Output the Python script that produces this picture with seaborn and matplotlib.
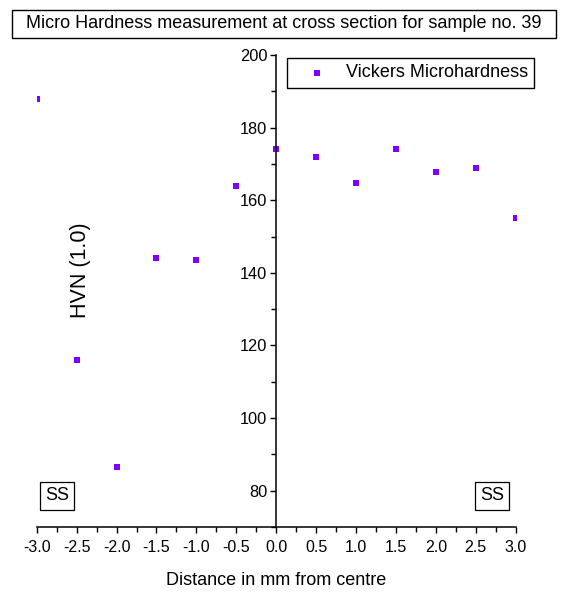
import matplotlib
matplotlib.use("Agg")
import matplotlib.pyplot as plt
import seaborn as sns
import pandas as pd
from matplotlib.patches import Rectangle
from matplotlib.ticker import MultipleLocator

# Vickers microhardness across the section of sample no. 39
distance_mm = [-3.0, -2.5, -2.0, -1.5, -1.0, -0.5, 0.0, 0.5, 1.0, 1.5, 2.0, 2.5, 3.0]
hardness_hvn = [187.8, 115.9, 86.4, 144.1, 143.4, 163.9, 174.2, 172.0, 164.8, 174.2, 167.8, 168.8, 155.2]

x_ticks = [-3.0, -2.5, -2.0, -1.5, -1.0, -0.5, 0.0, 0.5, 1.0, 1.5, 2.0, 2.5, 3.0]
x_tick_labels = ["-3.0", "-2.5", "-2.0", "-1.5", "-1.0", "-0.5", "0.0",
                 "0.5", "1.0", "1.5", "2.0", "2.5", "3.0"]
y_ticks = [80, 100, 120, 140, 160, 180, 200]
y_tick_labels = ["80", "100", "120", "140", "160", "180", "200"]

title_text = "Micro Hardness measurement at cross section for sample no. 39"
series_label = "Vickers Microhardness"
zone_label = "SS"

sns.set_style("ticks")
plt.rcParams["font.family"] = ["Liberation Sans", "DejaVu Sans"]
plt.rcParams.update({"text.color": "black", "axes.labelcolor": "black",
                     "xtick.color": "black", "ytick.color": "black"})

fig = plt.figure(figsize=(5.64, 5.97), dpi=100)
ax = fig.add_axes([0.0651, 0.1173, 0.8493, 0.7906])

df = pd.DataFrame({"Distance": distance_mm, "HVN": hardness_hvn})
sns.scatterplot(data=df, x="Distance", y="HVN", ax=ax, marker="s", s=14,
                color="#7F00FF", linewidth=0, label=series_label)

ax.set_xlim(-3, 3)
ax.set_ylim(70, 200)

# vertical axis drawn through the centre of the section
ax.spines["left"].set_position(("data", 0))
ax.spines["top"].set_visible(False)
ax.spines["right"].set_visible(False)
for side in ("left", "bottom"):
    ax.spines[side].set_linewidth(1.1)
    ax.spines[side].set_color("black")

ax.set_xticks(x_ticks, x_tick_labels)
ax.set_yticks(y_ticks, y_tick_labels)
ax.xaxis.set_minor_locator(MultipleLocator(0.25))
ax.yaxis.set_minor_locator(MultipleLocator(10))
ax.tick_params(which="both", direction="out", width=1.0, color="black",
               labelcolor="black")
ax.tick_params(which="major", length=4.5)
ax.tick_params(which="minor", length=3.5)
ax.tick_params(axis="x", labelsize=11.5, pad=5)
ax.tick_params(axis="y", labelsize=11.8, pad=2)

ax.set_xlabel("Distance in mm from centre", fontsize=13, labelpad=12)
ax.set_ylabel("HVN (1.0)", fontsize=15.5)
ax.yaxis.set_label_coords(0.113, 0.545)

# stainless-steel zones at both ends
for xpos in (-2.746, 2.703):
    ax.text(xpos, 78.6, zone_label, ha="center", va="center", fontsize=13,
            bbox=dict(boxstyle="square,pad=0.3", fc="white", ec="black", lw=0.9))

leg = ax.legend(loc="upper left", bbox_to_anchor=(0.5226, 0.9936), borderaxespad=0,
                frameon=True, fancybox=False, edgecolor="black", framealpha=1,
                fontsize=13, handlelength=2.6, handletextpad=0.3, borderpad=0.35)
leg.get_frame().set_linewidth(1.0)

# boxed title
fig.text(0.5035, 1 - 24 / 597, title_text, ha="center", va="center", fontsize=13)
fig.patches.append(Rectangle((12 / 564, 1 - 38 / 597), 544 / 564, 28 / 597,
                             transform=fig.transFigure, fill=False, ec="black", lw=1.0))

fig.savefig("out.png", dpi=100)
